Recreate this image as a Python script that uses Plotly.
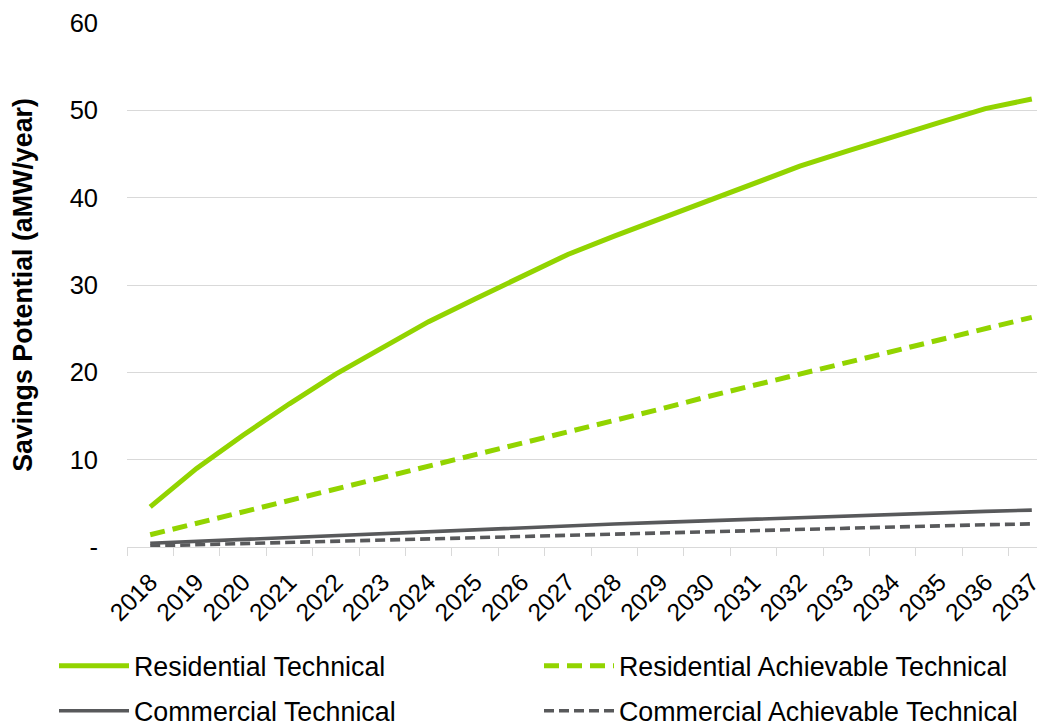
import plotly.graph_objects as go

years = [str(y) for y in range(2018, 2038)]
res_tech = [4.6, 9.0, 12.8, 16.4, 19.8, 22.8, 25.8, 28.4, 31.0, 33.5,
            35.6, 37.6, 39.7, 41.6, 43.6, 45.3, 47.0, 48.6, 50.2, 51.3]
res_ach = [1.4, 2.7, 4.0, 5.3, 6.6, 7.9, 9.2, 10.5, 11.8, 13.2,
           14.5, 15.8, 17.2, 18.5, 19.85, 21.2, 22.5, 23.8, 25.1, 26.3]
com_tech = [0.43, 0.66, 0.89, 1.12, 1.35, 1.58, 1.81, 2.04, 2.24, 2.43,
            2.63, 2.82, 3.01, 3.2, 3.4, 3.59, 3.78, 3.93, 4.08, 4.22]
com_ach = [0.12, 0.26, 0.4, 0.54, 0.68, 0.81, 0.95, 1.07, 1.2, 1.34,
           1.48, 1.62, 1.76, 1.9, 2.04, 2.18, 2.32, 2.44, 2.55, 2.65]
y_ticks = [0, 10, 20, 30, 40, 50, 60]
y_ticktext = ["-", "10", "20", "30", "40", "50", "60"]

GREEN = "#92D400"
GRAY = "#58595B"
GRID = "#D9D9D9"
FONT = "Liberation Sans, Arial, sans-serif"

fig = go.Figure()
fig.add_trace(go.Scatter(x=years, y=res_tech, mode="lines", name="Residential Technical",
                         line=dict(color=GREEN, width=5), legend="legend"))
fig.add_trace(go.Scatter(x=years, y=res_ach, mode="lines", name="Residential Achievable Technical",
                         line=dict(color=GREEN, width=5, dash="15px,8px"), legend="legend2"))
fig.add_trace(go.Scatter(x=years, y=com_tech, mode="lines", name="Commercial Technical",
                         line=dict(color=GRAY, width=3.6), legend="legend3"))
fig.add_trace(go.Scatter(x=years, y=com_ach, mode="lines", name="Commercial Achievable Technical",
                         line=dict(color=GRAY, width=3.6, dash="10px,5px"), legend="legend4"))

# figure is placed by the page with an 8px body margin
FIG_W, FIG_H = 1037, 715
L, T = 119, 14.7
PLOT_BOTTOM = 539.4
B = FIG_H - PLOT_BOTTOM
R = 0
W = FIG_W - L - R
H = FIG_H - T - B


def px_x(x):
    return (x - L) / W


def px_y(y):
    return (PLOT_BOTTOM - y) / H


leg_common = dict(orientation="h", font=dict(family=FONT, size=26.8, color="#000000"),
                  itemwidth=70, bgcolor="rgba(0,0,0,0)", xanchor="left", yanchor="middle",
                  borderwidth=0, visible=True)

fig.update_layout(
    width=FIG_W, height=FIG_H,
    showlegend=True,
    margin=dict(l=L, r=R, t=T, b=B, autoexpand=False),
    paper_bgcolor="white", plot_bgcolor="white",
    font=dict(family=FONT, size=24.5, color="#000000"),
    legend=dict(x=px_x(46), y=px_y(658.5), **leg_common),
    legend2=dict(x=px_x(531), y=px_y(658.5), **leg_common),
    legend3=dict(x=px_x(46), y=px_y(703.5), **leg_common),
    legend4=dict(x=px_x(531), y=px_y(703.5), **leg_common),
    xaxis=dict(type="category", range=[-0.5, -0.5 + W / 46.4],
               showgrid=False, showline=True, linecolor=GRID, linewidth=1.3,
               ticks="outside", tickson="boundaries", ticklen=8, tickcolor=GRID, tickwidth=1.3,
               tickangle=-45, ticklabelstandoff=10,
               tickfont=dict(family=FONT, size=24.5, color="#000000"),
               automargin=False),
    yaxis=dict(range=[0, 60], tickvals=y_ticks, ticktext=y_ticktext,
               showgrid=True, gridcolor=GRID, gridwidth=1.3, zeroline=False, showline=False,
               ticks="", ticklabelstandoff=28,
               tickfont=dict(family=FONT, size=25.5, color="#000000"),
               title=dict(text="<b>Savings Potential (aMW/year)</b>", standoff=41,
                          font=dict(family=FONT, size=26.8, color="#000000")),
               automargin=False),
)

fig.write_html("out.html")
